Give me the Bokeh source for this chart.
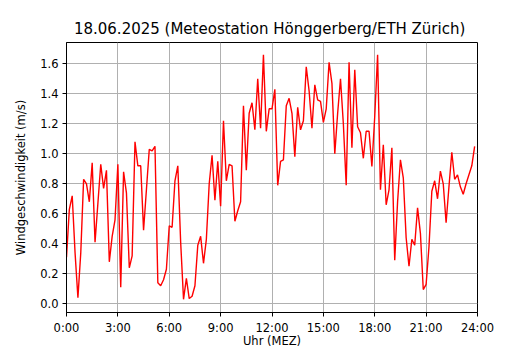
from bokeh.plotting import figure
from bokeh.models import FixedTicker, Range1d, PrintfTickFormatter
from bokeh.embed import file_html
from bokeh.resources import INLINE

# time of each reading in minutes after midnight (10-minute readings)
minutes = [i * 10 for i in range(144)]
speed = [
    0.31, 0.63, 0.72, 0.34, 0.04, 0.34, 0.83, 0.80, 0.68, 0.94, 0.41, 0.67,
    0.93, 0.77, 0.89, 0.28, 0.45, 0.56, 0.93, 0.11, 0.88, 0.74, 0.24, 0.32,
    1.08, 0.92, 0.92, 0.49, 0.76, 1.03, 1.02, 1.05, 0.14, 0.12, 0.16, 0.23,
    0.52, 0.51, 0.82, 0.92, 0.41, 0.03, 0.17, 0.035, 0.05, 0.12, 0.39, 0.45,
    0.27, 0.43, 0.80, 0.99, 0.69, 0.95, 0.65, 1.22, 0.82, 0.93, 0.92, 0.55,
    0.62, 0.68, 1.32, 0.89, 1.27, 1.34, 1.16, 1.50, 1.17, 1.66, 1.15, 1.30,
    1.30, 1.43, 0.79, 0.95, 0.96, 1.32, 1.37, 1.27, 0.98, 1.31, 1.16, 1.22,
    1.58, 1.42, 1.17, 1.46, 1.36, 1.35, 1.21, 1.30, 1.61, 1.47, 1.00, 1.27,
    1.50, 1.20, 0.79, 1.61, 1.04, 1.56, 1.18, 1.14, 0.97, 1.15, 1.15, 0.915,
    1.25, 1.66, 0.76, 1.06, 0.66, 0.76, 1.04, 0.29, 0.68, 0.96, 0.84, 0.44,
    0.25, 0.43, 0.39, 0.64, 0.47, 0.095, 0.13, 0.38, 0.75, 0.82, 0.70, 0.885,
    0.80, 0.54, 0.78, 1.01, 0.83, 0.86, 0.78, 0.73, 0.80, 0.86, 0.92, 1.05,
]
x_ticks = [0, 3, 6, 9, 12, 15, 18, 21, 24]
x_tick_labels = ["0:00", "3:00", "6:00", "9:00", "12:00", "15:00", "18:00", "21:00", "24:00"]
y_ticks = [0.0, 0.2, 0.4, 0.6, 0.8, 1.0, 1.2, 1.4, 1.6]

hours = [m / 60 for m in minutes]

FONT = "DejaVu Sans"

p = figure(width=530, height=350, output_backend="svg", toolbar_location=None,
           x_range=Range1d(0, 24), y_range=Range1d(-0.058, 1.742),
           title="18.06.2025  (Meteostation Hönggerberg/ETH Zürich)",
           min_border_left=66, min_border_right=53, min_border_bottom=37, min_border_top=42)

p.line(hours, speed, line_color="#ff0000", line_width=1.4)

p.title.align = "center"
p.title.text_font = FONT
p.title.text_font_size = "15px"
p.title.text_font_style = "normal"
p.title.text_color = "black"
p.title.offset = 0
p.title.standoff = 9

p.xaxis.ticker = FixedTicker(ticks=x_ticks)
p.xaxis.major_label_overrides = {t: l for t, l in zip(x_ticks, x_tick_labels)}
p.yaxis.ticker = FixedTicker(ticks=y_ticks)
p.yaxis.formatter = PrintfTickFormatter(format="%.1f")
p.xaxis.axis_label = "Uhr (MEZ)"
p.yaxis.axis_label = "Windgeschwindigkeit (m/s)"

for ax in (p.xaxis, p.yaxis):
    ax.axis_label_text_font = FONT
    ax.axis_label_text_font_size = "11.5px"
    ax.axis_label_text_font_style = "normal"
    ax.axis_label_text_color = "black"
    ax.major_label_text_font = FONT
    ax.major_label_text_font_size = "11.5px"
    ax.major_label_text_color = "black"
    ax.minor_tick_line_color = None
    ax.major_tick_line_color = "black"
    ax.major_tick_in = 0
    ax.major_tick_out = 4
    ax.axis_line_color = "black"
    ax.major_label_standoff = 4

p.xaxis.axis_label_standoff = -4
p.yaxis.axis_label_standoff = 9

p.outline_line_color = "black"
p.outline_line_alpha = 1
p.outline_line_width = 1

for g in (p.xgrid, p.ygrid):
    g.grid_line_color = "#b0b0b0"
    g.grid_line_width = 1
    g.grid_line_alpha = 1

open("out.html", "w").write(file_html(p, INLINE))
